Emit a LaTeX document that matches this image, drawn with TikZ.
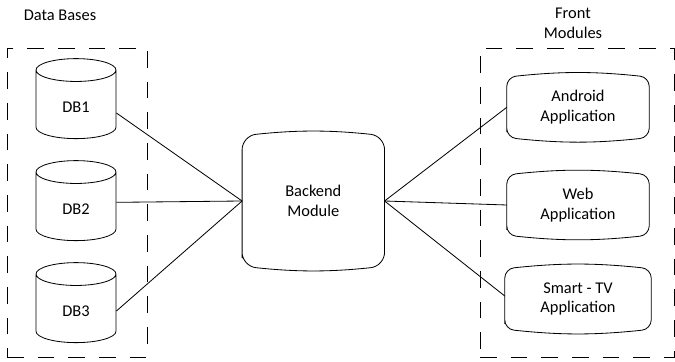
\documentclass[tikz,border=0pt]{standalone}
\usepackage{fontspec}
\setmainfont{Carlito}
\usetikzlibrary{shapes,arrows}
\usetikzlibrary{positioning}
\tikzstyle{every node} = [font=\fontsize{14}{17}\selectfont]
\tikzstyle{group} = [draw, rectangle, dash pattern=on 0.5cm off 0.42cm,
                     line width=0.7pt, minimum height=9.27cm]
\tikzstyle{db} = [draw, line width=0.7pt,
  shape=cylinder,
  aspect=0.65,
  minimum height=2.4cm,
  minimum width=2.4cm,
  shape border rotate=90
]
\tikzstyle{module} = [rectangle, align=center, minimum width=4.26cm,
  append after command={\pgfextra{
    \draw[line width=0.7pt, rounded corners=\modcorner]
      (\tikzlastnode.south west) -- (\tikzlastnode.north west)
      to[bend left=6] (\tikzlastnode.north east) -- (\tikzlastnode.south east)
      to[bend left=6] (\tikzlastnode.south west) -- cycle;}}]
\tikzstyle{edge} = [draw, line width=0.7pt, -]
\newcommand{\modcorner}{0.28cm}

\begin{document}
\begin{tikzpicture}
  \useasboundingbox (0,0) rectangle (20.25,-10.86);
  % Groups
  \node [group, minimum width=4.2cm] (dbgroup) at (2.31,-6.08) {};
  \node [group, minimum width=5.82cm] (frontgroup) at (17.31,-6.08) {};
  \node (dbtitle) at (1.8,-0.45) {Data Bases};
  \node [align=center] (fronttitle) at (17.19,-0.7) {Front\\Modules};

  % Place nodes
  \node [db] (db1) at (2.28,-3.21) {\raisebox{-0.2cm}{DB1}};
  \node [db, below of=db1, node distance=3.06cm] (db2) {\raisebox{-0.2cm}{DB2}};
  \node [db, below of=db2, node distance=3.06cm] (db3) {\raisebox{-0.2cm}{DB3}};
  {\renewcommand{\modcorner}{0.42cm}
  \node [module, minimum height=3.9cm] (backend) at (9.4,-6.03) {Backend\\Module};}
  \node [module, minimum height=1.8cm] (android) at (17.34,-3.22) {Android\\Application};
  \node [module, minimum height=1.8cm, below of=android, node distance=2.93cm] (web) {Web\\Application};
  \node [module, minimum height=1.8cm, minimum width=4.38cm, below of=web, node distance=2.82cm] (smarttv) {Smart - TV\\Application};

  % Draw edges
  \path [edge] ([yshift=-0.18cm]db1.east) -- (backend.west);
  \path [edge] ([yshift=0.2cm]db2.east) -- (backend.west);
  \path [edge] (db3.east) -- (backend.west);
  \path [edge] (backend.east) -- (android.west);
  \path [edge] (backend.east) -- (web.west);
  \path [edge] (backend.east) -- ([yshift=0.09cm]smarttv.west);
\end{tikzpicture}
\end{document}
